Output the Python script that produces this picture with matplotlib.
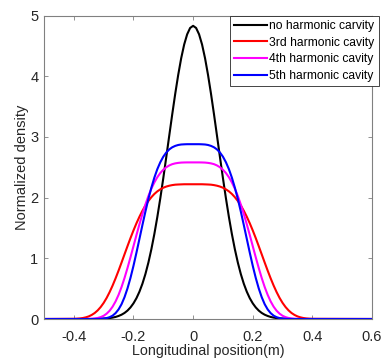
import numpy as np
import matplotlib
matplotlib.use('Agg')
import matplotlib.pyplot as plt

plt.rcParams['font.family'] = ['Liberation Sans', 'DejaVu Sans']

# half profiles, x >= 0 in 0.01 m steps (curves are symmetric)
x_half = np.round(np.arange(0, 0.405, 0.01), 2)

no_harm = [4.830, 4.795, 4.690, 4.522, 4.296, 4.021, 3.710, 3.373, 3.022, 2.668,
           2.321, 1.990, 1.681, 1.400, 1.149, 0.929, 0.740, 0.581, 0.450, 0.343,
           0.258, 0.191, 0.139, 0.100, 0.071, 0.050, 0.034, 0.023, 0.015, 0.010,
           0.007, 0.004, 0.002, 0.001, 0, 0, 0, 0, 0, 0, 0]
harm3 = [2.220, 2.220, 2.220, 2.220, 2.218, 2.216, 2.213, 2.206, 2.196, 2.182,
         2.163, 2.136, 2.103, 2.060, 2.007, 1.944, 1.870, 1.783, 1.685, 1.577,
         1.459, 1.333, 1.201, 1.066, 0.930, 0.797, 0.670, 0.551, 0.443, 0.347,
         0.265, 0.197, 0.142, 0.099, 0.067, 0.043, 0.027, 0.016, 0.009, 0.005, 0.003]
harm4 = [2.580, 2.580, 2.580, 2.579, 2.577, 2.572, 2.564, 2.551, 2.530, 2.500,
         2.459, 2.405, 2.336, 2.250, 2.147, 2.025, 1.885, 1.730, 1.561, 1.383,
         1.200, 1.017, 0.841, 0.676, 0.527, 0.398, 0.290, 0.203, 0.136, 0.088,
         0.053, 0.031, 0.017, 0.009, 0.004, 0.002, 0, 0, 0, 0, 0]
harm5 = [2.880, 2.880, 2.880, 2.878, 2.875, 2.867, 2.852, 2.829, 2.794, 2.743,
         2.674, 2.583, 2.469, 2.329, 2.164, 1.977, 1.769, 1.548, 1.320, 1.093,
         0.876, 0.678, 0.505, 0.360, 0.244, 0.158, 0.097, 0.055, 0.030, 0.015,
         0.007, 0.003, 0.001, 0, 0, 0, 0, 0, 0, 0, 0]

labels = ['no harmonic carvity', '3rd harmonic cavity',
          '4th harmonic cavity', '5th harmonic cavity']
colors = ['k', '#ff0000', '#ff00ff', '#0000ff']


def full_profile(half):
    half = np.asarray(half)
    x = np.concatenate(([-0.5], -x_half[::-1], x_half[1:], [0.6]))
    y = np.concatenate(([0], half[::-1], half[1:], [0]))
    return x, y


fig = plt.figure(figsize=(3.81, 3.59), dpi=100)
ax = fig.add_axes([0.1155, 0.1114, 0.861, 0.8454])

for data, lab, c in zip([no_harm, harm3, harm4, harm5], labels, colors):
    x, y = full_profile(data)
    ax.plot(x, y, color=c, lw=1.5, label=lab)

ax.set_xlim(-0.5, 0.6)
ax.set_ylim(0, 5)
ax.set_xticks([-0.4, -0.2, 0, 0.2, 0.4, 0.6])
ax.set_xticklabels(['-0.4', '-0.2', '0', '0.2', '0.4', '0.6'])
ax.set_yticks([0, 1, 2, 3, 4, 5])

gray = '#262626'
for s in ax.spines.values():
    s.set_color('#808080')
    s.set_linewidth(0.8)
ax.tick_params(direction='in', top=True, right=True, length=3, width=0.6,
               colors='#808080', labelcolor=gray, labelsize=10.5)
ax.tick_params(axis='x', pad=8)
ax.tick_params(axis='y', pad=4)
ax.set_xlabel('Longitudinal position(m)', fontsize=10.3, color=gray, labelpad=0)
ax.set_ylabel('Normalized density', fontsize=10.5, color=gray, labelpad=1)

leg = ax.legend(loc='upper right', bbox_to_anchor=(1.021, 1.0), fontsize=8.7,
                frameon=True, fancybox=False, framealpha=1, borderaxespad=0,
                handlelength=2.7, handletextpad=0.2, labelspacing=0.4,
                borderpad=0.35)
leg.get_frame().set_edgecolor(gray)
leg.get_frame().set_linewidth(0.6)

fig.savefig('out.png', dpi=100)
